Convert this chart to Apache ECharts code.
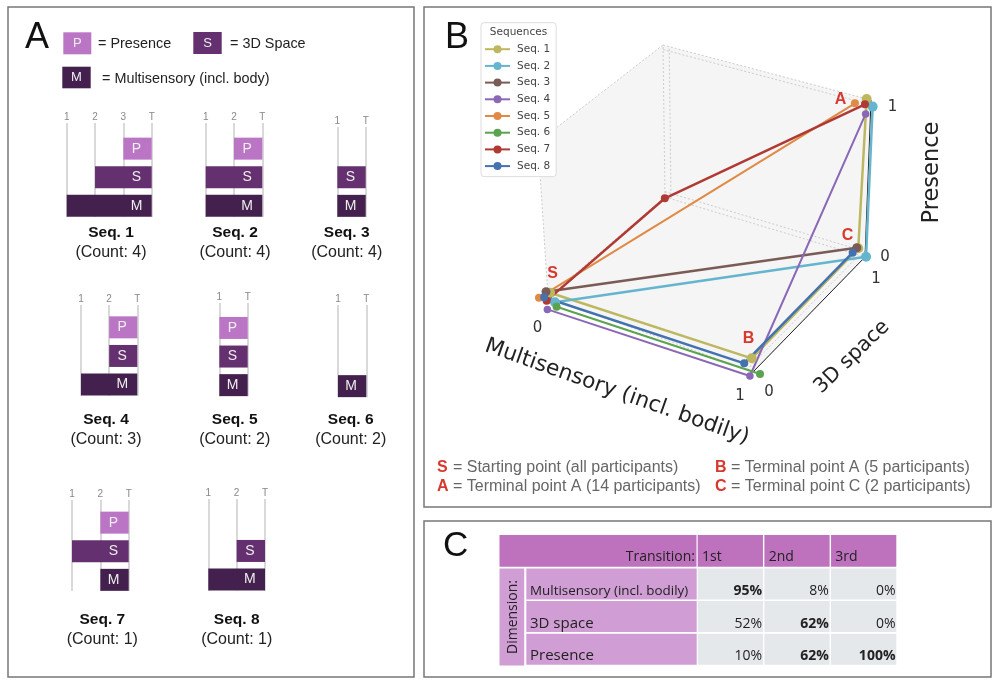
<!DOCTYPE html>
<html><head><meta charset="utf-8">
<style>html,body{margin:0;padding:0;background:#fff}#c{width:1000px;height:686px}</style>
<script src="https://cdn.jsdelivr.net/npm/echarts@6/dist/echarts.min.js"></script></head>
<body><div id="c"></div>
<script>
// ---------- Panel A data ----------
const seqNames = ['Seq. 1','Seq. 2','Seq. 3','Seq. 4','Seq. 5','Seq. 6','Seq. 7','Seq. 8'];
const seqCounts = [4,4,4,3,2,2,1,1];
const seqSteps = [['1','2','3','T'],['1','2','T'],['1','T'],['1','2','T'],['1','T'],['1','T'],['1','2','T'],['1','2','T']];
const rowLetters = ['M','S','P'];
// [row, startStep, endStep]
const seqBars = [
  [[0,0,3],[1,1,3],[2,2,3]],
  [[0,0,2],[1,0,2],[2,1,2]],
  [[0,0,1],[1,0,1]],
  [[0,0,2],[1,1,2],[2,1,2]],
  [[0,0,1],[1,0,1],[2,0,1]],
  [[0,0,1]],
  [[0,1,2],[1,0,2],[2,1,2]],
  [[0,0,2],[1,1,2]]
];
// ---------- Panel B data: [multisensory, 3D space, presence] for every step ----------
const seq1Path = [[-0.010,0.035,0],[0.947,0.085,0],[0.941,1.045,0],[0.979,1,0.999]];
const seq2Path = [[0.045,-0.019,0],[1.003,1.004,0],[1.009,1,0.961]];
const seq3Path = [[-0.028,0.032,0],[0.933,1.046,0]];
const seq4Path = [[0.047,-0.088,0],[1.003,-0.033,0],[0.977,1,0.903]];
const seq5Path = [[-0.028,-0.028,0],[0.924,1,0.952]];
const seq6Path = [[0.068,-0.046,0],[1.032,0.004,0]];
const seq7Path = [[0.010,-0.029,0],[0.005,0.99,0],[0.972,1,0.963]];
const seq8Path = [[-0.012,-0.012,0],[0.938,0.035,0],[0.936,1.004,0]];
const seqPaths = [seq1Path,seq2Path,seq3Path,seq4Path,seq5Path,seq6Path,seq7Path,seq8Path];
// ---------- Panel C data ----------
const transitions = ['1st','2nd','3rd'];
const dimensions = ['Presence','3D space','Multisensory (incl. bodily)'];
const pctMultisensory = [95,8,0];
const pct3dSpace = [52,62,0];
const pctPresence = [10,62,100];
const boldMultisensory = [true,false,false];
const bold3dSpace = [false,true,false];
const boldPresence = [false,true,true];

// ---------- Styles / layout ----------
const rowColors = ['#44204E','#65306F','#BA76C4'];
const seqColors = ['#BDB860','#64B5CD','#7A5B55','#8B68B5','#E08A45','#5BA34F','#B03A33','#4472B0'];
const seqWidths = [2.5,2.5,2.5,2,2,2,2.5,2.5];
const seqSymbols = [10,10,9,7.5,8,8,8,8];
// [left, right, lineTop, bottom]
const seqBoxes = [[66.7,151.7,123,217],[205.7,262.3,123,217],[337.3,365.7,127,217],
  [81,137.3,305,395.7],[219.3,247.7,303,396.3],[338,366.3,305,397.3],
  [72,128.7,500,591],[208.3,265,499,590.7]];
// [centerX, titleY]
const seqTitles = [[111,233],[235,233],[346.7,233],[106,420],[234.7,420],[350.7,420],[102.3,620],[236.7,620]];
const rowPitch = 28.6;
// Screen position of cube corners, index m*4+s*2+p
const cubeCorners = [[548,297],[538,142],[665,197],[663,45],[753,372],[751,205],[865,257],[871,100]];
function project(v){
  const [m,s,p]=v; let x=0,y=0;
  for(let i=0;i<8;i++){
    const w=((i&4)?m:1-m)*((i&2)?s:1-s)*((i&1)?p:1-p);
    x+=w*cubeCorners[i][0]; y+=w*cubeCorners[i][1];
  }
  return [x,y];
}
const paneFaces = [
  [[0,0,0],[1,0,0],[1,1,0],[0,1,0]],
  [[0,1,0],[1,1,0],[1,1,1],[0,1,1]],
  [[0,0,0],[0,1,0],[0,1,1],[0,0,1]]
];
const dottedEdges = [
  [[0,1,1],[1,1,1]],[[0,1,0.97],[1,1,0.97]],
  [[0,1,0],[1,1,0]],[[0,1,0.035],[1,1,0.035]],
  [[0,1,0],[0,1,1]],[[0.03,1,0],[0.03,1,1]],
  [[0,0,0],[0,0,1]],[[0,0,1],[0,1,1]],[[0,0,0],[0,1,0]],[[0,0,0.0],[1,0,0]],
  [[1,0,0],[1,1,0]],[[0.97,0,0],[0.97,1,0]]
];
const blackEdges = [[[1,0,0],[1,1,0]],[[1,1,0],[1,1,1]]];

const SANS='"Liberation Sans",Arial,sans-serif', DJ='"DejaVu Sans",sans-serif';
const grid=[],xAxis=[],yAxis=[],series=[],graphic=[];

// panel frames
[[8,7,406,670],[424,7,567,500],[424,521,567,156]].forEach(r=>graphic.push({type:'rect',z:0,silent:true,
  shape:{x:r[0],y:r[1],width:r[2],height:r[3]},style:{fill:'#fff',stroke:'#777',lineWidth:1.5}}));
function txt(x,y,text,size,o){o=o||{};graphic.push({type:'text',z:o.z||1,silent:true,x,y,rotation:o.rot||0,
  style:{text,font:(o.weight||'normal')+' '+size+'px '+(o.family||SANS),fill:o.fill||'#222',
  textAlign:o.align||'left',textVerticalAlign:'middle'}});}
txt(25,38,'A',36,{fill:'#111'});txt(445,38,'B',36,{fill:'#111'});txt(443,546,'C',35,{fill:'#111'});

// Panel A legend
function box(x,y,w,h,c,l){graphic.push({type:'rect',z:1,silent:true,shape:{x,y,width:w,height:h},style:{fill:c}});
  txt(x+w/2,y+h/2,l,13,{align:'center',fill:'#eee'});}
box(63.3,32.3,28,22,rowColors[2],'P');txt(98,44,'= Presence',14.4);
box(193.3,32,28.4,22,rowColors[1],'S');txt(230,44,'= 3D Space',14.4);
box(62.3,66.7,28.4,21.6,rowColors[0],'M');txt(102,79,'= Multisensory (incl. body)',14.4);

// Panel A small charts
seqNames.forEach((n,i)=>{
  const b=seqBoxes[i],st=seqSteps[i];
  grid.push({left:b[0],width:b[1]-b[0],top:b[2],height:b[3]-b[2]});
  xAxis.push({type:'value',gridIndex:i,min:0,max:st.length-1,interval:1,position:'top',
    axisLine:{show:false},axisTick:{show:false},
    axisLabel:{margin:1,fontSize:10,color:'#888',fontFamily:SANS,formatter:v=>st[v]},
    splitLine:{show:true,lineStyle:{color:'#ccc',width:1.5}}});
  yAxis.push({type:'value',gridIndex:i,min:-0.39,max:-0.39+(b[3]-b[2])/rowPitch,show:false,splitLine:{show:false}});
  series.push({type:'custom',xAxisIndex:i,yAxisIndex:i,silent:true,animation:false,data:seqBars[i],clip:false,
    encode:{x:[1,2],y:0},
    renderItem(p,api){
      const r=api.value(0),s=api.coord([api.value(1),r]),e=api.coord([api.value(2),r]),h=22;
      const lx=api.coord([api.value(2)-0.5,r])[0]-1;
      return {type:'group',children:[
        {type:'rect',shape:{x:s[0],y:s[1]-h/2,width:e[0]-s[0],height:h},style:{fill:rowColors[r]}},
        {type:'text',x:lx,y:s[1],style:{text:rowLetters[r],fill:'#eee',font:'14px '+SANS,textAlign:'center',textVerticalAlign:'middle'}}
      ]};
    }});
  const t=seqTitles[i];
  txt(t[0],t[1],n,15.5,{align:'center',weight:'bold',fill:'#111'});
  txt(t[0],t[1]+20,'(Count: '+seqCounts[i]+')',16,{align:'center',fill:'#222'});
});

// Panel B
const gB=grid.length;
grid.push({left:0,right:0,top:0,bottom:0});
xAxis.push({type:'value',gridIndex:gB,min:0,max:1000,show:false,splitLine:{show:false}});
yAxis.push({type:'value',gridIndex:gB,min:0,max:686,inverse:true,show:false,splitLine:{show:false}});
series.push({type:'custom',xAxisIndex:gB,yAxisIndex:gB,silent:true,animation:false,z:1,
  data:paneFaces.map((f,i)=>[i]),
  renderItem(p,api){return {type:'polygon',shape:{points:paneFaces[p.dataIndex].map(v=>api.coord(project(v)))},
    style:{fill:'#f5f5f6'}};}});
function edgeSeries(list,color,width,dash){series.push({type:'custom',xAxisIndex:gB,yAxisIndex:gB,silent:true,animation:false,z:1,
  data:list.map((f,i)=>[i]),
  renderItem(p,api){const e=list[p.dataIndex];return {type:'line',
    shape:(()=>{const a=api.coord(project(e[0])),b=api.coord(project(e[1]));return {x1:a[0],y1:a[1],x2:b[0],y2:b[1]};})(),
    style:{stroke:color,lineWidth:width,lineDash:dash}};}});}
edgeSeries(dottedEdges,'#cccccc',1,[2,2]);
edgeSeries(blackEdges,'#222',1,null);
seqNames.forEach((n,i)=>series.push({type:'line',name:n,xAxisIndex:gB,yAxisIndex:gB,animation:false,silent:true,z:3,
  data:seqPaths[i].map(project),symbol:'circle',symbolSize:seqSymbols[i],showAllSymbol:true,clip:false,
  lineStyle:{color:seqColors[i],width:seqWidths[i]},itemStyle:{color:seqColors[i]}}));

const red='#D8392E';
txt(552.5,274,'S',16,{align:'center',weight:'bold',fill:red,z:5});
txt(748.5,339,'B',16,{align:'center',weight:'bold',fill:red,z:5});
txt(840.5,100,'A',16,{align:'center',weight:'bold',fill:red,z:5});
txt(847.5,236,'C',16,{align:'center',weight:'bold',fill:red,z:5});
[[537.5,328,'0'],[740,396,'1'],[769,392,'0'],[876,279,'1'],[885,257,'0'],[892.5,107,'1']].forEach(t=>
  txt(t[0],t[1],t[2],15,{align:'center',family:DJ,fill:'#333'}));
txt(617,392,'Multisensory (incl. bodily)',21.7,{align:'center',family:DJ,fill:'#222',rot:-19.5*Math.PI/180});
txt(852,357,'3D space',20.5,{align:'center',family:DJ,fill:'#222',rot:44*Math.PI/180});
txt(932,172.5,'Presence',22.5,{align:'center',family:DJ,fill:'#222',rot:Math.PI/2});
txt(518.5,32,'Sequences',10.5,{align:'center',family:DJ,fill:'#444',z:50});

// notes of panel B
const nc='#666';
function note(x,y,l,t){txt(x,y,l,16,{weight:'bold',fill:red});txt(x+11.5,y,t,16,{fill:nc});}
note(437,468,'S',' = Starting point (all participants)');
note(715,468,'B',' = Terminal point A (5 participants)');
note(437,487,'A',' = Terminal point A (14 participants)');
note(715,487,'C',' = Terminal point C (2 participants)');

// Panel C
const gC=grid.length, headerColor='#BE72BE', rowHeadColor='#D09ED4', cellColor='#E5E8EA';
grid.push({left:697,width:200,top:535,height:130.5});
xAxis.push({type:'category',gridIndex:gC,data:transitions,show:false});
yAxis.push({type:'category',gridIndex:gC,data:dimensions.concat(['header']),show:false});
const tableCells=[];
[[pctPresence,boldPresence],[pct3dSpace,bold3dSpace],[pctMultisensory,boldMultisensory]].forEach((r,y)=>
  r[0].forEach((v,x)=>tableCells.push([x,y,v,r[1][x]?1:0])));
const CF='"Open Sans","Liberation Sans",sans-serif';
series.push({type:'custom',xAxisIndex:gC,yAxisIndex:gC,silent:true,animation:false,
  data:tableCells,
  renderItem(p,api){
    const x=api.value(0),y=api.value(1),c=api.coord([x,y]),s=api.size([1,1]);
    const L=c[0]-s[0]/2,T=c[1]-s[1]/2;
    return {type:'group',children:[
      {type:'rect',shape:{x:L+0.7,y:T+0.8,width:s[0]-1.4,height:s[1]-1.6},style:{fill:cellColor}},
      {type:'text',x:L+s[0]-1.5,y:c[1]+7,style:{text:api.value(2)+'%',fill:'#222',
        font:(api.value(3)?'bold ':'')+'14px '+CF,textAlign:'right',textVerticalAlign:'middle'}}
    ]};
  }});
// header cells for transitions
series.push({type:'custom',xAxisIndex:gC,yAxisIndex:gC,silent:true,animation:false,
  data:transitions.map((t,i)=>[i]),
  renderItem(p,api){
    const x=api.value(0),c=api.coord([x,3]),s=api.size([1,1]);const L=c[0]-s[0]/2,T=c[1]-s[1]/2;
    return {type:'group',children:[
      {type:'rect',shape:{x:L+0.7,y:T,width:s[0]-1.4,height:s[1]-0.8},style:{fill:headerColor}},
      {type:'text',x:L+5,y:c[1]+6,style:{text:transitions[x],fill:'#222',font:'14px '+CF,textVerticalAlign:'middle'}}
    ]};
  }});
// row header cells
series.push({type:'custom',xAxisIndex:gC,yAxisIndex:gC,silent:true,animation:false,clip:false,
  data:dimensions.map((t,i)=>[0,i]),
  renderItem(p,api){
    const y=api.value(1),c=api.coord([0,y]),s=api.size([1,1]);const T=c[1]-s[1]/2,R=c[0]-s[0]/2;
    return {type:'group',children:[
      {type:'rect',shape:{x:526.3,y:T+0.8,width:R-0.3-526.3,height:s[1]-1.6},style:{fill:rowHeadColor}},
      {type:'text',x:530,y:c[1]+7,style:{text:dimensions[y],fill:'#222',font:(y==2?'13.4':'15')+'px '+CF,textVerticalAlign:'middle'}}
    ]};
  }});
graphic.push({type:'rect',z:1,silent:true,shape:{x:499.5,y:535,width:197,height:31.8},style:{fill:headerColor}});
graphic.push({type:'rect',z:1,silent:true,shape:{x:499.5,y:568.4,width:24.7,height:97},style:{fill:rowHeadColor}});
txt(695,557,'Transition:',14,{align:'right',family:CF,z:2});
txt(513,617,'Dimension:',14,{align:'center',family:CF,rot:Math.PI/2,z:2});

const chart=echarts.init(document.getElementById('c'),null,{renderer:'canvas'});
chart.setOption({
  animation:false,backgroundColor:'#fff',grid,xAxis,yAxis,series,
  graphic:{elements:graphic},
  legend:{data:seqNames,orient:'vertical',left:481,top:22.7,padding:[21,6,5,3],itemWidth:25,itemHeight:10,itemGap:5.7,
    selectedMode:false,backgroundColor:'#fff',borderColor:'#ddd',borderWidth:1,borderRadius:3,z:20,
    textStyle:{fontFamily:DJ,fontSize:10.5,color:'#444',padding:[0,0,0,2]}}
});
</script></body></html>
